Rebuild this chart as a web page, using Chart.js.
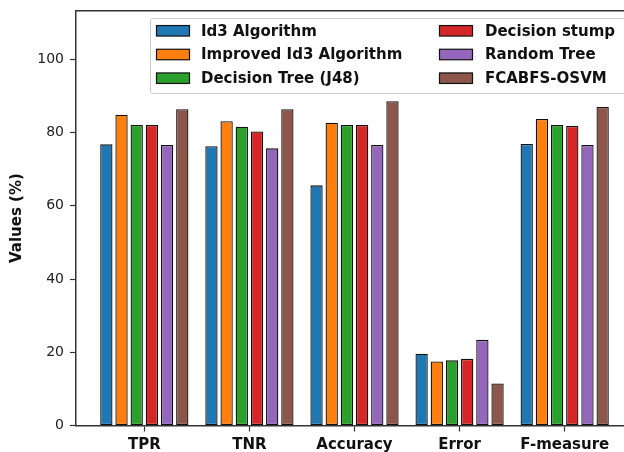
<!DOCTYPE html>
<html>
<head>
<meta charset="utf-8">
<script src="https://cdn.jsdelivr.net/npm/chart.js@4/dist/chart.umd.min.js"></script>
<style>
html,body{margin:0;padding:0;background:#fff;overflow:hidden;width:624px;height:452px;}
#wrap{position:absolute;left:0;top:0;width:633px;height:452px;}
</style>
</head>
<body>
<div id="wrap"><canvas id="c" width="633" height="452"></canvas></div>
<script>
const categories = ["TPR", "TNR", "Accuracy", "Error", "F-measure"];
const seriesNames = ["Id3 Algorithm", "Improved Id3 Algorithm", "Decision Tree (J48)", "Decision stump", "Random Tree", "FCABFS-OSVM"];
const id3 = [76.8, 76.3, 65.6, 19.6, 76.9];
const improvedId3 = [84.9, 83.1, 82.7, 17.5, 83.7];
const j48 = [82.1, 81.6, 82.1, 17.8, 82.1];
const decisionStump = [82.1, 80.3, 82.1, 18.2, 81.8];
const randomTree = [76.6, 75.7, 76.6, 23.4, 76.6];
const fcabfsOsvm = [86.4, 86.4, 88.6, 11.5, 87.0];
const yTicks = [0, 20, 40, 60, 80, 100];

const seriesValues = [id3, improvedId3, j48, decisionStump, randomTree, fcabfsOsvm];
const colors = ["#1f77b4", "#ff7f0e", "#2ca02c", "#d62728", "#9467bd", "#8c564b"];
const FONT = "'DejaVu Sans', sans-serif";
const AX = "#333333";

const datasets = seriesNames.map((name, i) => ({
  label: name,
  data: seriesValues[i].map((v, j) => ({x: j, y: v})),
  backgroundColor: colors[i],
  borderColor: "#111111",
  borderWidth: 1.3,
  borderSkipped: false,
  categoryPercentage: 0.867,
  barPercentage: 0.81
}));

const frameLegend = {
  id: "frameLegend",
  afterDraw(chart) {
    const ctx = chart.ctx;
    const a = chart.chartArea;
    ctx.save();
    // top spine
    ctx.strokeStyle = AX;
    ctx.lineWidth = 1.5;
    ctx.beginPath();
    ctx.moveTo(a.left, a.top);
    ctx.lineTo(a.right, a.top);
    ctx.stroke();
    // legend box (its right side runs past the visible window, as in the reference)
    const bx = 150.5, by = 18.5, bw = 520, bh = 75, r = 3;
    ctx.beginPath();
    ctx.moveTo(bx + r, by);
    ctx.lineTo(bx + bw - r, by);
    ctx.quadraticCurveTo(bx + bw, by, bx + bw, by + r);
    ctx.lineTo(bx + bw, by + bh - r);
    ctx.quadraticCurveTo(bx + bw, by + bh, bx + bw - r, by + bh);
    ctx.lineTo(bx + r, by + bh);
    ctx.quadraticCurveTo(bx, by + bh, bx, by + bh - r);
    ctx.lineTo(bx, by + r);
    ctx.quadraticCurveTo(bx, by, bx + r, by);
    ctx.closePath();
    ctx.fillStyle = "rgba(255,255,255,0.8)";
    ctx.fill();
    ctx.strokeStyle = "#cccccc";
    ctx.lineWidth = 1;
    ctx.stroke();
    const patchX = [156.5, 439.5];
    const textX = [201, 485];
    ctx.font = "bold 15px " + FONT;
    ctx.textBaseline = "middle";
    ctx.textAlign = "left";
    chart.data.datasets.forEach((ds, i) => {
      const col = Math.floor(i / 3), row = i % 3;
      const cy = 30.8 + row * 23.7;
      ctx.fillStyle = ds.backgroundColor;
      ctx.fillRect(patchX[col], cy - 5.25, 33, 10.5);
      ctx.strokeStyle = "#111111";
      ctx.lineWidth = 1.2;
      ctx.strokeRect(patchX[col], cy - 5.25, 33, 10.5);
      ctx.fillStyle = "#111111";
      ctx.fillText(ds.label, textX[col], cy + 1);
    });
    ctx.restore();
  }
};

new Chart(document.getElementById("c"), {
  type: "bar",
  data: {datasets},
  options: {
    responsive: false,
    animation: false,
    layout: {padding: {top: 10.7, right: 0, left: 0, bottom: 0}},
    plugins: {legend: {display: false}, tooltip: {enabled: false}},
    scales: {
      x: {
        type: "linear",
        min: -0.65,
        max: 4.65,
        offset: false,
        afterBuildTicks: (s) => { s.ticks = categories.map((c, i) => ({value: i})); },
        afterFit: (s) => { s.height = 26.5; s.paddingLeft = 0; s.paddingRight = 0; },
        ticks: {
          autoSkip: false,
          maxRotation: 0,
          padding: 5,
          color: "#111111",
          font: {family: FONT, size: 15, weight: "bold"},
          callback: (v) => categories[Math.round(v)]
        },
        grid: {offset: false, drawOnChartArea: false, drawTicks: true, tickLength: 6, tickColor: AX, tickWidth: 1.2},
        border: {display: true, color: AX, width: 1.5}
      },
      y: {
        min: 0,
        max: 113.3,
        afterBuildTicks: (s) => { s.ticks = yTicks.map(v => ({value: v})); },
        afterFit: (s) => { s.width = 76; s.paddingTop = 0; s.paddingBottom = 0; },
        ticks: {
          padding: 6,
          color: "#222222",
          font: {family: FONT, size: 14}
        },
        title: {
          display: true,
          text: "Values (%)",
          color: "#111111",
          font: {family: FONT, size: 15, weight: "bold"},
          padding: {top: 8.5, bottom: 0}
        },
        grid: {drawOnChartArea: false, drawTicks: true, tickLength: 6, tickColor: AX, tickWidth: 1.2},
        border: {display: true, color: AX, width: 1.5}
      }
    }
  },
  plugins: [frameLegend]
});
</script>
</body>
</html>
